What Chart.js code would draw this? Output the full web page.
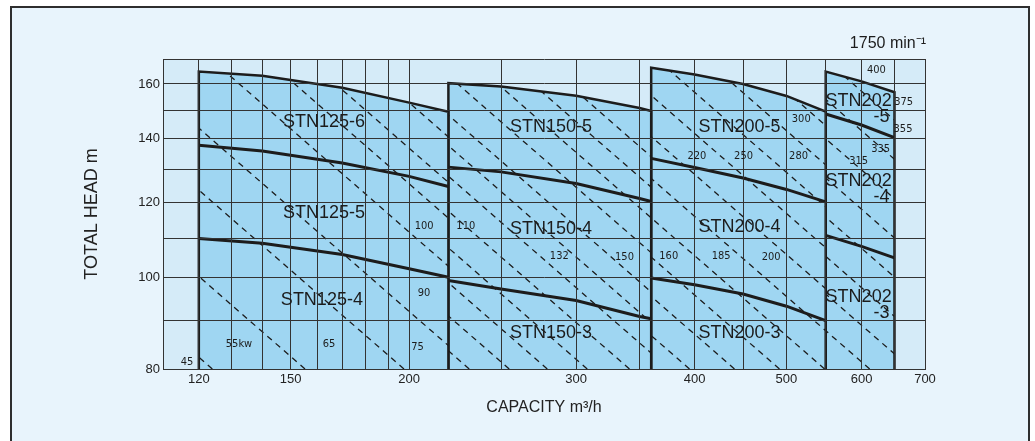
<!DOCTYPE html>
<html>
<head>
<meta charset="utf-8">
<title>STN pump selection chart, 1750 min-1</title>
<script src="https://cdn.jsdelivr.net/npm/chart.js@4.4.1/dist/chart.umd.min.js"></script>
<style>
  html, body { margin: 0; padding: 0; background: #fff; }
  #wrap { width: 1035px; height: 441px; }
</style>
</head>
<body>
<div id="wrap"><canvas id="chart" width="1035" height="441"></canvas></div>
<script>
// Selection chart for the STN multistage pumps: capacity (m3/h) vs total head (m), log-log

// Axes: grid lines and the values that get a label
const xGrid = [110, 120, 130, 140, 150, 160, 170, 180, 190, 200, 250, 300, 350, 400, 450, 500, 550, 600, 650, 700];
const xLabels = [120, 150, 200, 300, 400, 500, 600, 700];
const yGrid = [80, 90, 100, 110, 120, 130, 140, 150, 160, 170];
const yLabels = [80, 100, 120, 140, 160];

// Head curves per pump family (capacity points shared by the curves of one family)
const stn125Q = [120, 140, 170, 200, 220];
const stn125H6 = [164.9, 163.2, 158.5, 152.9, 149.5];
const stn125H5 = [137.8, 135.9, 132.0, 127.8, 124.7];
const stn125H4 = [109.9, 108.6, 105.7, 102.1, 100.0];

const stn150Q = [220, 250, 300, 350, 360];
const stn150H5 = [160.3, 159.0, 155.5, 150.9, 149.8];
const stn150H4 = [130.7, 129.2, 125.6, 121.1, 120.2];
const stn150H3 = [99.2, 97.2, 94.5, 90.9, 90.4];

const stn200Q = [360, 400, 450, 500, 550];
const stn200H5 = [166.4, 163.7, 160.0, 155.4, 149.6];
const stn200H4 = [133.5, 130.6, 127.3, 123.8, 120.1];
const stn200H3 = [99.8, 98.2, 96.0, 93.2, 90.0];

const stn202Q = [550, 600, 650];
const stn202H5 = [164.9, 161.0, 156.8];
const stn202H4 = [148.7, 144.8, 140.4];
const stn202H3 = [110.7, 107.8, 104.8];

// Motor kW boundaries (dashed): capacity where each line meets head 80 m and head 170 m
const kwLineH = [80, 170];
const stn125Kw = [[124, 52.2], [155.3, 65.5], [197.5, 83.3], [234.8, 99], [292.9, 123.5], [334.9, 141.3], [370, 156], [419.9, 177.1]];
const stn150Kw = [[231.4, 97.6], [255, 107.6], [279.7, 118], [308.2, 130], [341.5, 144], [376.3, 158.7], [409.8, 172.8], [446.1, 188.2], [497.6, 209.9], [548.5, 231.3], [597.2, 251.9], [650.4, 274.3]];
const stn200Kw = [[395.1, 166.6], [440.7, 185.9], [491.6, 207.3], [548.5, 231.3], [612, 258.1], [687.8, 290.1], [771.1, 325.2], [864.4, 364.6], [971.2, 409.6], [1083.6, 457]];
const stn202Kw = [[612, 258.1], [677.8, 285.9], [752.6, 317.4], [839.5, 354.1], [936.4, 394.9], [1044.5, 440.5], [1165.5, 491.6], [1300.2, 548.4]];

// Text placed on the chart: [text, capacity, head]
const modelLabels = [
  ['STN125-6', 162.6, 145.9], ['STN125-5', 162.6, 117.0], ['STN125-4', 161.8, 94.7],
  ['STN150-5', 282.2, 144.1], ['STN150-4', 282.2, 112.5], ['STN150-3', 282.2, 87.4],
  ['STN200-5', 446.1, 144.1], ['STN200-4', 446.1, 112.9], ['STN200-3', 446.1, 87.4],
  ['STN202', 595.8, 153.6], ['-5', 630, 147.5],
  ['STN202', 595.8, 126.3], ['-4', 630, 121.5],
  ['STN202', 595.8, 95.3], ['-3', 630, 91.6]
];
const kwLabels = [
  ['45', 116.6, 81.4], ['55kw', 132.3, 85.0], ['65', 164.6, 85.0], ['75', 204.1, 84.4], ['90', 207.4, 96.1], ['100', 207.4, 113.2],
  ['110', 229.5, 113.2], ['132', 288.0, 105.2], ['150', 337.4, 105.1],
  ['160', 375.7, 105.2], ['185', 426.7, 105.2], ['200', 481.8, 105.1],
  ['220', 402.2, 134.3], ['250', 450.5, 134.3], ['280', 514.9, 134.1], ['300', 518.3, 146.9],
  ['315', 595.8, 132.7], ['335', 628.5, 136.5], ['355', 663.6, 143.4], ['375', 664.7, 153.2], ['400', 622.0, 165.3]
];
const speedNote = '1750 min⁻¹';

// Colours
const pageBlue = '#e8f4fc';
const plotBlue = '#d5ebf8';
const shade = '#9fd6f2';
const ink = '#1c1c1c';
const gridInk = '#333333';

const regions = [
  { q: stn125Q, top: stn125H6, inner: [stn125H5, stn125H4], kw: stn125Kw },
  { q: stn150Q, top: stn150H5, inner: [stn150H4, stn150H3], kw: stn150Kw },
  { q: stn200Q, top: stn200H5, inner: [stn200H4, stn200H3], kw: stn200Kw },
  { q: stn202Q, top: stn202H5, inner: [stn202H4, stn202H3], kw: stn202Kw }
];

function toPoints(q, h) {
  return q.map((v, i) => ({ x: v, y: h[i] }));
}

// Outline of a family's area: up the left edge, along the top curve, down the right edge
function regionOutline(q, top) {
  return [{ x: q[0], y: yGrid[0] }, ...toPoints(q, top), { x: q[q.length - 1], y: yGrid[0] }];
}

const datasets = [];
regions.forEach((r) => {
  r.fillIndex = datasets.length;
  datasets.push({ data: regionOutline(r.q, r.top), fill: 'start', backgroundColor: shade, borderColor: ink, borderWidth: 2.5, order: 2 });
});
regions.forEach((r) => {
  r.kw.forEach(([foot, head]) => {
    datasets.push({
      data: [{ x: foot, y: kwLineH[0] }, { x: head, y: kwLineH[1] }],
      borderColor: ink, borderWidth: 1.3, borderDash: [6, 5], fill: false, order: 1, clipTo: r.fillIndex
    });
  });
  r.inner.forEach((h) => {
    datasets.push({ data: toPoints(r.q, h), borderColor: ink, borderWidth: 3, fill: false, order: 0 });
  });
});

// Page frame and the pale plot background
const backdrop = {
  id: 'backdrop',
  beforeDraw(chart) {
    const { ctx, chartArea: a, width, height } = chart;
    ctx.save();
    ctx.fillStyle = '#ffffff';
    ctx.fillRect(0, 0, width, height);
    ctx.fillStyle = pageBlue;
    ctx.fillRect(11, 7, 1018, height);
    ctx.strokeStyle = '#2e2e2e';
    ctx.lineWidth = 2;
    ctx.strokeRect(11, 7, 1018, height + 10);
    ctx.fillStyle = plotBlue;
    ctx.fillRect(a.left, a.top, a.right - a.left, a.bottom - a.top);
    ctx.restore();
  }
};

// Keep each kW line inside the area of its own pump family
const regionClip = {
  id: 'regionClip',
  beforeDatasetDraw(chart, args) {
    const ds = chart.data.datasets[args.index];
    if (ds.clipTo === undefined) return;
    const pts = chart.getDatasetMeta(ds.clipTo).data;
    const ctx = chart.ctx;
    ctx.save();
    ctx.beginPath();
    pts.forEach((p, i) => (i ? ctx.lineTo(p.x, p.y) : ctx.moveTo(p.x, p.y)));
    ctx.closePath();
    ctx.clip();
  },
  afterDatasetDraw(chart, args) {
    const ds = chart.data.datasets[args.index];
    if (ds.clipTo !== undefined) chart.ctx.restore();
  }
};

const annotations = {
  id: 'annotations',
  afterDraw(chart) {
    const { ctx, scales, chartArea } = chart;
    ctx.save();
    ctx.fillStyle = ink;
    ctx.textAlign = 'center';
    ctx.textBaseline = 'middle';
    ctx.font = "18px 'Liberation Sans', Arial, sans-serif";
    modelLabels.forEach(([t, q, h]) => ctx.fillText(t, scales.x.getPixelForValue(q), scales.y.getPixelForValue(h)));
    ctx.font = "11px 'Liberation Sans Narrow', 'DejaVu Sans Condensed', 'Liberation Sans', sans-serif";
    kwLabels.forEach(([t, q, h]) => ctx.fillText(t, scales.x.getPixelForValue(q), scales.y.getPixelForValue(h)));
    ctx.font = "16px 'Liberation Sans', Arial, sans-serif";
    ctx.textAlign = 'right';
    ctx.fillText(speedNote, chartArea.right + 1, chartArea.top - 15);
    ctx.restore();
  }
};

Chart.defaults.font.family = "'Liberation Sans', Arial, sans-serif";
Chart.defaults.color = '#222';

new Chart(document.getElementById('chart'), {
  type: 'line',
  data: { datasets },
  plugins: [backdrop, regionClip, annotations],
  options: {
    responsive: false,
    animation: false,
    events: [],
    layout: { padding: { left: 72, top: 59, right: 110, bottom: 0 } },
    elements: { point: { radius: 0 }, line: { tension: 0 } },
    plugins: { legend: { display: false }, tooltip: { enabled: false } },
    scales: {
      x: {
        type: 'logarithmic',
        min: xGrid[0],
        max: xGrid[xGrid.length - 1],
        afterBuildTicks: (axis) => { axis.ticks = xGrid.map((v) => ({ value: v })); },
        afterFit: (axis) => { axis.height = 72; axis.paddingLeft = 0; axis.paddingRight = 0; },
        ticks: {
          autoSkip: false, maxRotation: 0, padding: 3, font: { size: 13 },
          callback: (v) => (xLabels.includes(v) ? String(v) : '')
        },
        grid: { color: gridInk, lineWidth: 1, drawTicks: false, z: 1 },
        border: { color: gridInk, width: 1, z: 1 },
        title: { display: true, text: 'CAPACITY m³/h', font: { size: 16 }, padding: { top: 0, bottom: 24 } }
      },
      y: {
        type: 'logarithmic',
        min: yGrid[0],
        max: yGrid[yGrid.length - 1],
        afterBuildTicks: (axis) => { axis.ticks = yGrid.map((v) => ({ value: v })); },
        afterFit: (axis) => { axis.width = 91; axis.paddingTop = 0; axis.paddingBottom = 0; },
        ticks: {
          autoSkip: false, padding: 3, font: { size: 13 },
          callback: (v) => (yLabels.includes(v) ? String(v) : '')
        },
        grid: { color: gridInk, lineWidth: 1, drawTicks: false, z: 1 },
        border: { color: gridInk, width: 1, z: 1 },
        title: { display: true, text: 'TOTAL HEAD m', font: { size: 18 }, padding: { top: 9, bottom: 0 } }
      }
    }
  }
});
</script>
</body>
</html>
